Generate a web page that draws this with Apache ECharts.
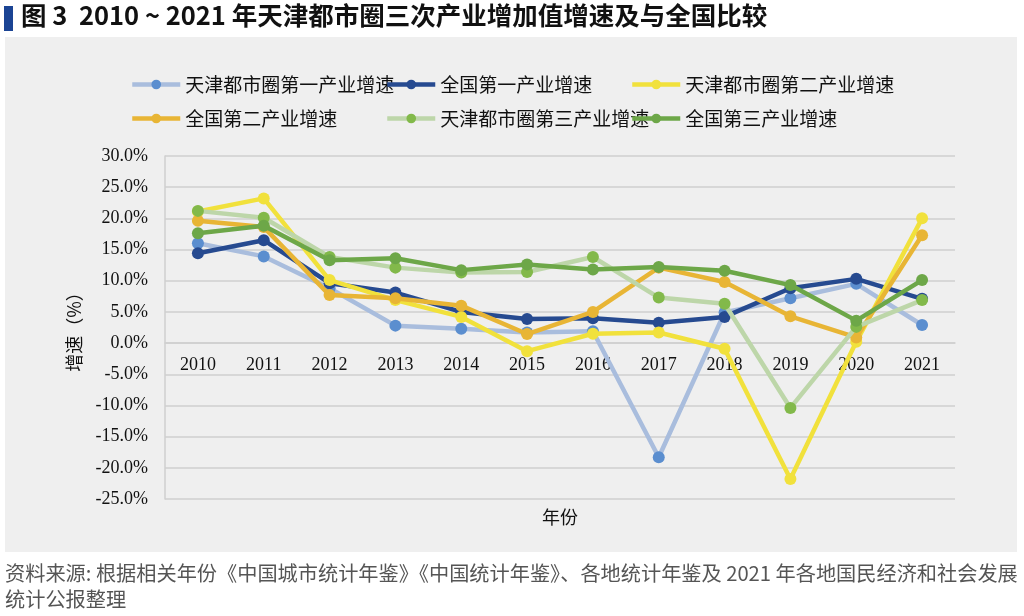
<!DOCTYPE html>
<html>
<head>
<meta charset="utf-8">
<script src="https://cdn.jsdelivr.net/npm/echarts@6/dist/echarts.min.js"></script>
<style>
html,body{margin:0;padding:0;background:#fff;}
#chart{width:1024px;height:616px;}
</style>
</head>
<body>
<div id="chart"></div>
<script>
// ---- data ----
var titleText = '图 3  2010 ~ 2021 年天津都市圈三次产业增加值增速及与全国比较';
var sourceLine1 = '资料来源: 根据相关年份《中国城市统计年鉴》《中国统计年鉴》、各地统计年鉴及 2021 年各地国民经济和社会发展';
var sourceLine2 = '统计公报整理';
var years = ['2010','2011','2012','2013','2014','2015','2016','2017','2018','2019','2020','2021'];
var seriesNames = ['天津都市圈第一产业增速','全国第一产业增速','天津都市圈第二产业增速','全国第二产业增速','天津都市圈第三产业增速','全国第三产业增速'];
var tjPrimary   = [16.0, 13.9, 8.8, 2.8, 2.3, 1.7, 1.9, -18.3, 4.9, 7.2, 9.5, 2.9];
var cnPrimary   = [14.4, 16.5, 9.6, 8.1, 5.0, 3.85, 4.0, 3.25, 4.2, 8.8, 10.3, 7.1];
var tjSecondary = [21.1, 23.2, 10.1, 6.9, 4.2, -1.3, 1.5, 1.7, -0.9, -21.8, 0.2, 20.0];
var cnSecondary = [19.6, 18.6, 7.7, 7.2, 6.0, 1.45, 5.0, 12.1, 9.8, 4.3, 0.9, 17.3];
var tjTertiary  = [21.2, 20.1, 13.8, 12.1, 11.3, 11.4, 13.8, 7.3, 6.3, -10.4, 2.6, 6.9];
var cnTertiary  = [17.6, 18.8, 13.3, 13.6, 11.7, 12.6, 11.8, 12.2, 11.6, 9.3, 3.6, 10.1];
var yAxisName = '增速（%）';
var xAxisName = '年份';

var seriesData = [tjPrimary, cnPrimary, tjSecondary, cnSecondary, tjTertiary, cnTertiary];
var lineColors   = ['#a9bddd','#264a90','#f1e13c','#e8b535','#bdd6a9','#6da748'];
var markerColors = ['#5b8ecf','#264a90','#f1e13c','#e8b535','#82b94a','#6da748'];

var cjk = '"Noto Sans CJK SC", sans-serif';
var serif = '"Liberation Serif", "Times New Roman", serif';

var chart = echarts.init(document.getElementById('chart'));

var series = seriesNames.map(function(n, i){
  return {
    name: n, type: 'line', data: seriesData[i], z: 10 + i, zlevel: 1,
    symbol: 'circle', symbolSize: 12,
    lineStyle: {color: lineColors[i], width: 4.5},
    itemStyle: {color: markerColors[i]},
    emphasis: {disabled: true}, animation: false
  };
});

var legendPos = [[125,70],[380,70],[625,70],[125,104],[380,104],[625,104]];
var legends = seriesNames.map(function(n, i){
  return {
    data: [n], left: legendPos[i][0], top: legendPos[i][1],
    itemWidth: 48, itemHeight: 12, itemGap: 6,
    lineStyle: {width: 4.5},
    textStyle: {fontFamily: cjk, fontSize: 19, color: '#111'},
    selectedMode: false
  };
});

chart.setOption({
  animation: false,
  backgroundColor: '#ffffff',
  graphic: [
    {type: 'rect', z: -100, shape: {x: 5, y: 37, width: 1012, height: 515}, style: {fill: '#efefef'}},
    {type: 'rect', shape: {x: 4, y: 6, width: 9, height: 25}, style: {fill: '#1b4494'}},
    {type: 'text', left: 21, top: 3, style: {text: titleText, font: 'bold 25.5px "Noto Sans CJK SC", sans-serif', fill: '#111'}},
    {type: 'text', left: 5, top: 563, style: {text: sourceLine1, font: '20.2px "Noto Sans CJK SC", sans-serif', fill: '#555'}},
    {type: 'text', left: 5, top: 589, style: {text: sourceLine2, font: '20.2px "Noto Sans CJK SC", sans-serif', fill: '#555'}}
  ],
  legend: legends,
  grid: {left: 165, right: 69, top: 156, bottom: 117, outerBoundsMode: 'none', containLabel: false},
  xAxis: {
    type: 'category', data: years, boundaryGap: true, position: 'bottom', offset: -156, z: 0,
    axisLine: {onZero: false, lineStyle: {color: '#cfcfcf', width: 1.5}},
    axisTick: {show: false},
    axisLabel: {fontFamily: serif, fontSize: 18, color: '#111', margin: 13, interval: 0},
    name: xAxisName, nameLocation: 'middle', nameGap: 165,
    nameTextStyle: {fontFamily: cjk, fontSize: 18, color: '#111'}
  },
  yAxis: {
    type: 'value', min: -25, max: 30, interval: 5, z: 0,
    axisLine: {show: true, lineStyle: {color: '#cfcfcf', width: 1.5}},
    axisTick: {show: false},
    splitLine: {lineStyle: {color: '#cfcfcf', width: 1.5}},
    axisLabel: {fontFamily: serif, fontSize: 18, color: '#111', margin: 17,
      formatter: function(v){ return v.toFixed(1) + '%'; }},
    name: yAxisName, nameLocation: 'middle', nameGap: 82, nameRotate: 90,
    nameTextStyle: {fontFamily: cjk, fontSize: 18, color: '#111'}
  },
  series: series
});
</script>
</body>
</html>
